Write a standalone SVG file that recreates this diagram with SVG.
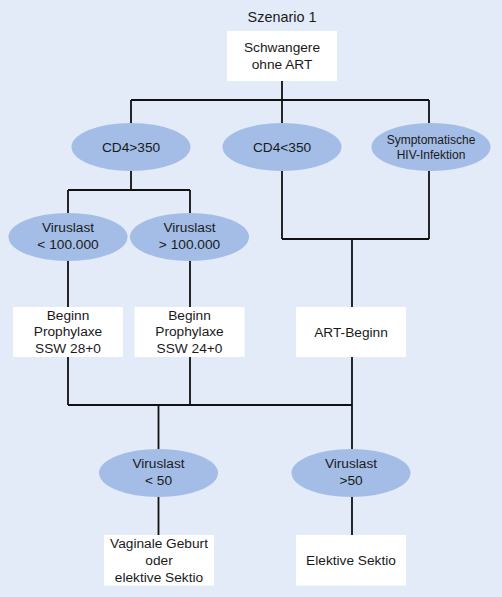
<svg xmlns="http://www.w3.org/2000/svg" width="502" height="597" viewBox="0 0 502 597">
<style>
text{font-family:"Liberation Sans",Arial,sans-serif;font-size:13.7px;fill:#1a1a1a;text-anchor:middle}
.box{fill:#ffffff}
.ell{fill:#a3bde6}
.ln{stroke:#111;stroke-width:1.8;fill:none}
.sm{font-size:12px}
</style>
<rect width="502" height="597" fill="#e3eaf8"/>
<text x="282" y="22" style="font-size:14.4px">Szenario 1</text>
<g id="connectors">
<path class="ln" d="M282 81V100M131 100H429M131 100V123M282 100V123M429 100V123"/>
<path class="ln" d="M131 171V190M68 190H190M68 190V213M190 190V213"/>
<path class="ln" d="M282 171V239M429 171V239M282 239H429M352 239V307"/>
<path class="ln" d="M68 261V307M190 261V307"/>
<path class="ln" d="M68 357V405M190 357V405M352 357V449M68 405H352M158.5 405V449"/>
<path class="ln" d="M158.5 497V535M352 497V535"/>
</g>
<g id="n_start"><rect class="box" x="227" y="31" width="110" height="50"/><text x="282" y="52">Schwangere</text><text x="282" y="68.5">ohne ART</text></g>
<g id="n_cd4gt"><ellipse class="ell" cx="131" cy="147" rx="59.5" ry="24"/><text x="131" y="152">CD4&gt;350</text></g>
<g id="n_cd4lt"><ellipse class="ell" cx="282" cy="147" rx="59.5" ry="24"/><text x="282" y="152">CD4&lt;350</text></g>
<g id="n_sympt"><ellipse class="ell" cx="431" cy="147" rx="59.5" ry="24"/><text class="sm" x="431" y="143.5">Symptomatische</text><text class="sm" x="431" y="158.5">HIV-Infektion</text></g>
<g id="n_vl_lt100k"><ellipse class="ell" cx="68" cy="237" rx="59.5" ry="24"/><text x="68" y="232">Viruslast</text><text x="68" y="248.5">&lt; 100.000</text></g>
<g id="n_vl_gt100k"><ellipse class="ell" cx="189.5" cy="237" rx="59.5" ry="24"/><text x="189.5" y="232">Viruslast</text><text x="189.5" y="248.5">&gt; 100.000</text></g>
<g id="n_proph28"><rect class="box" x="13" y="307" width="110" height="50"/><text x="68" y="319.5">Beginn</text><text x="68" y="336">Prophylaxe</text><text x="68" y="352.5">SSW 28+0</text></g>
<g id="n_proph24"><rect class="box" x="134.5" y="307" width="110" height="50"/><text x="189.5" y="319.5">Beginn</text><text x="189.5" y="336">Prophylaxe</text><text x="189.5" y="352.5">SSW 24+0</text></g>
<g id="n_art"><rect class="box" x="296" y="307" width="110" height="50"/><text x="351" y="336.5">ART-Beginn</text></g>
<g id="n_vl_lt50"><ellipse class="ell" cx="158.5" cy="473" rx="59.5" ry="24"/><text x="158.5" y="468">Viruslast</text><text x="158.5" y="484.5">&lt; 50</text></g>
<g id="n_vl_gt50"><ellipse class="ell" cx="351" cy="473" rx="59.5" ry="24"/><text x="351" y="468">Viruslast</text><text x="351" y="484.5">&gt;50</text></g>
<g id="n_vaginal"><rect class="box" x="104" y="535" width="110" height="50.5"/><text x="159" y="548">Vaginale Geburt</text><text x="159" y="565">oder</text><text x="159" y="581.5">elektive Sektio</text></g>
<g id="n_sektio"><rect class="box" x="296" y="535" width="110" height="50.5"/><text x="351" y="565">Elektive Sektio</text></g>
</svg>
